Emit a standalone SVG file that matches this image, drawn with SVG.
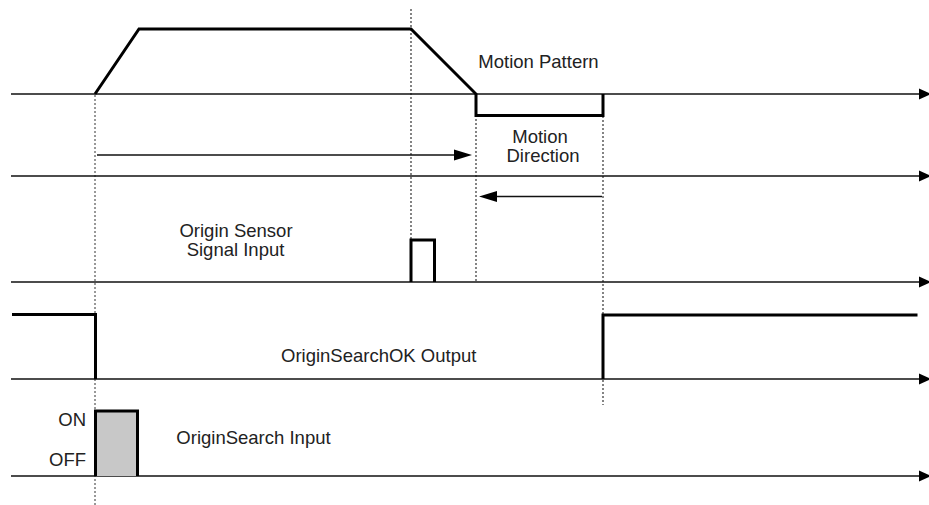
<svg xmlns="http://www.w3.org/2000/svg" width="929" height="505" viewBox="0 0 929 505">
<style>
.axis{stroke:#111;stroke-width:1.5;fill:none}
.sig{stroke:#000;stroke-width:3;fill:none;stroke-linejoin:miter}
.dot{stroke:#333;stroke-width:1.2;stroke-dasharray:2 2;fill:none}
.dotg{stroke:#777;stroke-width:1.5;stroke-dasharray:2 2;fill:none}
.dir{stroke:#111;stroke-width:1.5;fill:none}
.head{fill:#000}
text{font-family:"Liberation Sans",Arial,sans-serif;font-size:18.5px;fill:#222}
</style>
<rect width="929" height="505" fill="#fff"/>
<g id="guides">
<line class="dotg" x1="95" y1="95" x2="95" y2="505"/>
<line class="dot" x1="411" y1="9" x2="411" y2="240"/>
<line class="dot" x1="476" y1="95" x2="476" y2="282"/>
<line class="dot" x1="603" y1="116" x2="603" y2="405"/>
</g>
<g id="connectors">
<line class="axis" x1="11" y1="94" x2="922" y2="94"/>
<polygon class="head" points="919,88.5 931,94 919,99.5"/>
<line class="axis" x1="11" y1="176" x2="922" y2="176"/>
<polygon class="head" points="919,170.5 931,176 919,181.5"/>
<line class="axis" x1="11" y1="282" x2="922" y2="282"/>
<polygon class="head" points="919,276.5 931,282 919,287.5"/>
<line class="axis" x1="11" y1="379" x2="922" y2="379"/>
<polygon class="head" points="919,373.5 931,379 919,384.5"/>
<line class="axis" x1="11" y1="476" x2="922" y2="476"/>
<polygon class="head" points="919,470.5 931,476 919,481.5"/>
<line class="dir" x1="97" y1="155" x2="456" y2="155"/>
<polygon class="head" points="454,149.5 472,155 454,160.5"/>
<line class="dir" x1="602" y1="196.5" x2="495" y2="196.5"/>
<polygon class="head" points="497,191 479,196.5 497,202"/>
</g>
<g id="motion-pattern">
<polyline class="sig" points="95,94 139,29 411,29 476,94 476,115.5 603,115.5 603,94"/>
<text x="538.5" y="68" text-anchor="middle">Motion Pattern</text>
</g>
<g id="motion-direction">
<text x="540" y="143" text-anchor="middle">Motion</text>
<text x="543" y="162" text-anchor="middle">Direction</text>
</g>
<g id="origin-sensor">
<polyline class="sig" points="411,282 411,240 434.5,240 434.5,282"/>
<text x="236" y="237" text-anchor="middle">Origin Sensor</text>
<text x="235.5" y="256" text-anchor="middle">Signal Input</text>
</g>
<g id="origin-search-ok">
<polyline class="sig" points="12,314.5 95.5,314.5 95.5,379"/>
<polyline class="sig" points="603,379 603,315 917.5,315"/>
<text x="378.7" y="362" text-anchor="middle">OriginSearchOK Output</text>
</g>
<g id="origin-search">
<rect x="95.5" y="411" width="42" height="65" fill="#c8c8c8"/>
<polyline class="sig" points="95.5,476 95.5,411 137.5,411 137.5,476"/>
<text x="86" y="426" text-anchor="end">ON</text>
<text x="86" y="466" text-anchor="end">OFF</text>
<text x="253.5" y="444" text-anchor="middle">OriginSearch Input</text>
</g>
</svg>
